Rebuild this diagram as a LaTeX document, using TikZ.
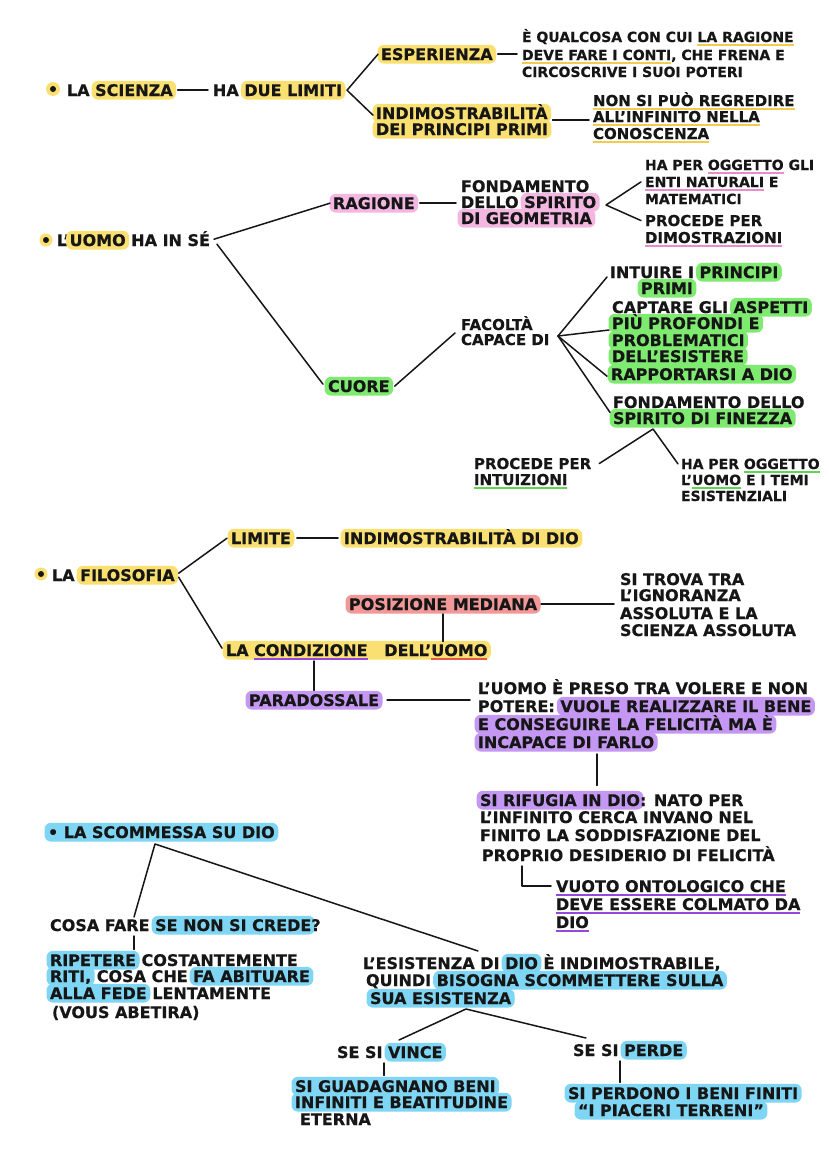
\documentclass[tikz,border=0pt]{standalone}
\usepackage{fontspec}
\setmainfont{DejaVu Sans}[BoldFeatures={FakeBold=0.5}]
\definecolor{ink}{RGB}{22,22,22}
\definecolor{yel}{RGB}{250,224,112}
\definecolor{pnk}{RGB}{244,183,226}
\definecolor{grn}{RGB}{126,234,112}
\definecolor{sal}{RGB}{242,152,152}
\definecolor{pur}{RGB}{196,152,242}
\definecolor{blu}{RGB}{126,214,244}
\definecolor{redu}{RGB}{232,86,70}
\definecolor{puru}{RGB}{150,72,222}
\definecolor{yelu}{RGB}{242,204,80}
\definecolor{pnku}{RGB}{232,140,204}
\definecolor{grnu}{RGB}{96,212,84}
\newbox\hlbx \newdimen\hlw
\newbox\ulbx \newdimen\ulw
\newcommand\hl[2]{\leavevmode\setbox\hlbx\hbox{#2}\hlw=\wd\hlbx\advance\hlw by 7pt\rlap{\kern-3.5pt\raisebox{-3.6pt}{\tikz\fill[#1,rounded corners=6.5pt] (0pt,0pt) rectangle (\the\hlw,18.8pt);}}\box\hlbx}
\newcommand\ulc[2]{\leavevmode\setbox\ulbx\hbox{#2}\ulw=\wd\ulbx\rlap{\raisebox{-3.8pt}{\tikz\fill[#1] (0pt,0pt) rectangle (\the\ulw,1.8pt);}}\box\ulbx}
\tikzset{
 tx/.style={font=\fontsize{16}{18}\selectfont\bfseries, text=ink, inner sep=0pt, outer sep=0pt, anchor=base west, text height=11.6pt, text depth=0pt},
 sm/.style={tx, font=\fontsize{14}{16}\selectfont\bfseries, text height=10.2pt},
 md/.style={tx, font=\fontsize{15}{17}\selectfont\bfseries, text height=10.9pt},
 ln/.style={draw=ink, line width=1.5pt, line cap=round, line join=round},
}
\begin{document}
\begin{tikzpicture}[x=1pt,y=-1pt]
\fill[white] (0,0) rectangle (828,1170);
\useasboundingbox (0,0) rectangle (828,1170);
% ---------- bullets
\fill[yel] (53,89) circle (7pt); \fill[ink] (53,89) circle (3pt);
\fill[yel] (46,240) circle (6.5pt); \fill[ink] (46,240) circle (3pt);
\fill[yel] (41,574) circle (6.5pt); \fill[ink] (41,574) circle (3pt);
% ---------- section 1
\node[tx] (sci) at (67,96) {LA \hl{yel}{SCIENZA}};
\node[tx] (due) at (213,96) {HA \hl{yel}{DUE LIMITI}};
\node[tx] (esp) at (381,60) {\hl{yel}{ESPERIENZA}};
\node[sm] (qual1) at (522,42) {È QUALCOSA CON CUI \ulc{yelu}{LA RAGIONE}};
\node[sm] (qual2) at (522,60) {\ulc{yelu}{DEVE FARE I CONTI}, CHE FRENA E};
\node[sm] (qual3) at (522,77) {CIRCOSCRIVE I SUOI POTERI};
\node[tx] (ind1) at (376,119) {\hl{yel}{INDIMOSTRABILITÀ}};
\node[tx] (ind2) at (376,135) {\hl{yel}{DEI PRINCIPI PRIMI}};
\node[md] (non1) at (593,106) {\ulc{yelu}{NON SI PUÒ REGREDIRE}};
\node[md] (non2) at (593,122) {\ulc{yelu}{ALL'INFINITO NELLA}};
\node[md] (non3) at (593,139) {\ulc{yelu}{CONOSCENZA}};
\draw[ln] ([xshift=5pt]sci.east) -- ([xshift=-5pt]due.west);
\coordinate (f1) at ([xshift=5pt]due.east);
\draw[ln] ([xshift=-3pt]esp.west) -- (f1) -- ([xshift=-3pt,yshift=-2pt]ind1.west);
\coordinate (q1) at (esp.east -| qual1.west);
\draw[ln] ([xshift=5pt]esp.east) -- ([xshift=-5pt]q1);
\coordinate (q2) at (ind1.south east -| non1.west);
\draw[ln] ([xshift=5pt,yshift=-1pt]ind1.south east) -- ([xshift=-4pt,yshift=-1pt]q2);
% ---------- section 2
\node[tx] (uomo) at (57,246) {L'\hl{yel}{UOMO} HA IN SÉ};
\node[tx] (rag) at (333,209) {\hl{pnk}{RAGIONE}};
\node[tx] (fond1) at (461,192) {FONDAMENTO};
\node[tx] (fond2) at (461,208) {DELLO \hl{pnk}{SPIRITO}};
\node[tx] (fond3) at (461,224) {\hl{pnk}{DI GEOMETRIA}};
\node[sm] (hap1) at (645,170) {HA PER \ulc{pnku}{OGGETTO} GLI};
\node[sm] (hap2) at (645,187) {\ulc{pnku}{ENTI NATURALI} E};
\node[sm] (hap3) at (645,204) {MATEMATICI};
\node[md] (pro1) at (645,226) {PROCEDE PER};
\node[md] (pro2) at (645,243) {\ulc{pnku}{DIMOSTRAZIONI}};
\node[tx] (cuo) at (328,392) {\hl{grn}{CUORE}};
\node[md] (fac1) at (461,330) {FACOLTÀ};
\node[md] (fac2) at (461,345) {CAPACE DI};
\node[tx] (int1) at (610,278) {INTUIRE I \hl{grn}{PRINCIPI}};
\node[tx] (int2) at (641,294) {\hl{grn}{PRIMI}};
\node[tx] (cap1) at (612,313) {CAPTARE GLI \hl{grn}{ASPETTI}};
\node[tx] (cap2) at (612,329) {\hl{grn}{PIÙ PROFONDI E}};
\node[tx] (cap3) at (612,346) {\hl{grn}{PROBLEMATICI}};
\node[tx] (cap4) at (612,362) {\hl{grn}{DELL'ESISTERE}};
\node[tx] (rap) at (611,380) {\hl{grn}{RAPPORTARSI A DIO}};
\node[tx] (fin1) at (613,408) {FONDAMENTO DELLO};
\node[tx] (fin2) at (613,424) {\hl{grn}{SPIRITO DI FINEZZA}};
\node[md] (pin1) at (474,469) {PROCEDE PER};
\node[md] (pin2) at (474,485) {\ulc{grnu}{INTUIZIONI}};
\node[sm] (hpo1) at (681,469) {HA PER \ulc{grnu}{OGGETTO}};
\node[sm] (hpo2) at (681,485) {L'\ulc{grnu}{UOMO} E I TEMI};
\node[sm] (hpo3) at (681,501) {ESISTENZIALI};
\draw[ln] ([xshift=4pt,yshift=1pt]uomo.east) -- ([xshift=-3pt]rag.west);
\draw[ln] ([xshift=7pt,yshift=-4pt]uomo.east) -- ([xshift=-5pt,yshift=2pt]cuo.west);
\coordinate (q3) at (rag.east -| fond2.west);
\draw[ln] ([xshift=5pt]rag.east) -- ([xshift=-5pt]q3);
\coordinate (f2) at (606,205);
\draw[ln] ([xshift=-4pt]hap2.west) -- (f2) -- ([xshift=-4pt]pro1.west);
\draw[ln] ([xshift=5pt]cuo.east) -- ([xshift=-6pt,yshift=-3pt]fac1.south west);
\coordinate (f3) at (558,336);
\draw[ln] ([xshift=-3pt,yshift=1pt]int1.south west) -- (f3);
\draw[ln] (f3) -- ([xshift=-3pt,yshift=-1pt]cap2.south west);
\draw[ln] (f3) -- ([xshift=-4pt,yshift=-2pt]rap.west);
\draw[ln] (f3) -- ([xshift=-3pt]fin2.north west);
\coordinate (f4) at (653,429);
\draw[ln] ([xshift=8pt]pin1.east) -- (f4) -- ([xshift=-3pt]hpo1.west);
% ---------- section 3
\node[tx] (fil) at (52,581) {LA \hl{yel}{FILOSOFIA}};
\node[tx] (lim) at (231,544) {\hl{yel}{LIMITE}};
\node[tx] (idd) at (344,544) {\hl{yel}{INDIMOSTRABILITÀ DI DIO}};
\node[tx] (pos) at (349,610) {\hl{sal}{POSIZIONE MEDIANA}};
\node[tx] (str1) at (620,585) {SI TROVA TRA};
\node[tx] (str2) at (620,601) {L'IGNORANZA};
\node[tx] (str3) at (620,619) {ASSOLUTA E LA};
\node[tx] (str4) at (620,636) {SCIENZA ASSOLUTA};
\node[tx] (cond) at (226,656) {\hl{yel}{LA \ulc{puru}{CONDIZIONE}\ \ \ DELL'\ulc{redu}{UOMO}}};
\node[tx] (par) at (249,706) {\hl{pur}{PARADOSSALE}};
\node[tx] (lu1) at (478,694) {L'UOMO È PRESO TRA VOLERE E NON};
\node[tx] (lu2) at (478,712) {POTERE: \hl{pur}{VUOLE REALIZZARE IL BENE}};
\node[tx] (lu3) at (478,730) {\hl{pur}{E CONSEGUIRE LA FELICITÀ MA È}};
\node[tx] (lu4) at (478,748) {\hl{pur}{INCAPACE DI FARLO}};
\node[tx] (sr1) at (480,806) {\hl{pur}{SI RIFUGIA IN DIO}: NATO PER};
\node[tx] (sr2) at (480,823) {L'INFINITO CERCA INVANO NEL};
\node[tx] (sr3) at (480,841) {FINITO LA SODDISFAZIONE DEL};
\node[tx] (sr4) at (482,861) {PROPRIO DESIDERIO DI FELICITÀ};
\node[tx] (vu1) at (556,892) {\ulc{puru}{VUOTO ONTOLOGICO CHE}};
\node[tx] (vu2) at (556,910) {\ulc{puru}{DEVE ESSERE COLMATO DA}};
\node[tx] (vu3) at (556,928) {\ulc{puru}{DIO}};
\draw[ln] ([xshift=4pt,yshift=2pt]fil.east) -- ([xshift=-4pt]lim.west);
\draw[ln] ([xshift=4pt,yshift=-2pt]fil.east) -- ([xshift=-4pt,yshift=2pt]cond.west);
\draw[ln] ([xshift=6pt]lim.east) -- ([xshift=-6pt]idd.west);
\coordinate (q4) at (pos.east -| str1.west);
\draw[ln] ([xshift=4pt]pos.east) -- ([xshift=-6pt]q4);
\coordinate (q5) at (pos.south |- cond.north);
\draw[ln] ([yshift=-4pt]pos.south) -- ([yshift=3pt]q5);
\coordinate (q6) at (par.north |- cond.south);
\draw[ln] ([yshift=-5pt]q6) -- ([yshift=4pt]par.north);
\coordinate (q7) at (par.east -| lu1.west);
\draw[ln] ([xshift=8pt]par.east) -- ([xshift=-8pt]q7);
\coordinate (cv) at (597,0);
\coordinate (q8) at (cv |- lu4.south);
\coordinate (q9) at (cv |- sr1.north);
\draw[ln] ([yshift=-6pt]q8) -- ([yshift=9pt]q9);
\coordinate (cx) at (522,0);
\coordinate (q10) at (cx |- sr4.south);
\draw[ln] ([yshift=-5pt]q10) |- ([xshift=-5pt]vu1.west);
% ---------- section 4
\node[tx] (sco) at (48,838) {\hl{blu}{• LA SCOMMESSA SU DIO}};
\node[tx] (cos) at (50,931) {COSA FARE \hl{blu}{SE NON SI CREDE}?};
\node[tx] (rip1) at (50,966) {\hl{blu}{RIPETERE} COSTANTEMENTE};
\node[tx] (rip2) at (50,982) {\hl{blu}{RITI,} COSA CHE \hl{blu}{FA ABITUARE}};
\node[tx] (rip3) at (50,999) {\hl{blu}{ALLA FEDE} LENTAMENTE};
\node[tx] (rip4) at (52,1018) {(VOUS ABETIRA)};
\node[tx] (esi1) at (363,969) {L'ESISTENZA DI \hl{blu}{DIO} È INDIMOSTRABILE,};
\node[tx] (esi2) at (366,986) {QUINDI \hl{blu}{BISOGNA SCOMMETTERE SULLA}};
\node[tx] (esi3) at (370,1004) {\hl{blu}{SUA ESISTENZA}};
\node[tx] (vin) at (337,1058) {SE SI \hl{blu}{VINCE}};
\node[tx] (gua1) at (295,1092) {\hl{blu}{SI GUADAGNANO BENI}};
\node[tx] (gua2) at (295,1108) {\hl{blu}{INFINITI E BEATITUDINE}};
\node[tx] (gua3) at (300,1125) {ETERNA};
\node[tx] (per) at (573,1056) {SE SI \hl{blu}{PERDE}};
\node[tx] (spe1) at (568,1099) {\hl{blu}{SI PERDONO I BENI FINITI}};
\node[tx] (spe2) at (578,1116) {\hl{blu}{“I PIACERI TERRENI”}};
\coordinate (f5) at (155,844);
\coordinate (e1) at (134,917);
\coordinate (e2) at (478,951);
\draw[ln] (e1) -- (f5) -- (e2);
\coordinate (cy) at (134,0);
\coordinate (q11) at (cy |- cos.south);
\coordinate (q12) at (cy |- rip1.north);
\draw[ln] ([yshift=-5pt]q11) -- ([yshift=5pt]q12);
\coordinate (f7) at (466,1009);
\coordinate (e4) at (399,1040);
\coordinate (e5) at (586,1038);
\draw[ln] (e4) -- (f7) -- (e5);
\coordinate (cz) at (384,0);
\coordinate (q13) at (cz |- vin.south);
\coordinate (q14) at (cz |- gua1.north);
\draw[ln] ([yshift=-5pt]q13) -- ([yshift=5pt]q14);
\coordinate (cw) at (620,0);
\coordinate (q15) at (cw |- per.south);
\coordinate (q16) at (cw |- spe1.north);
\draw[ln] ([yshift=-5pt]q15) -- ([yshift=5pt]q16);
\end{tikzpicture}
\end{document}
